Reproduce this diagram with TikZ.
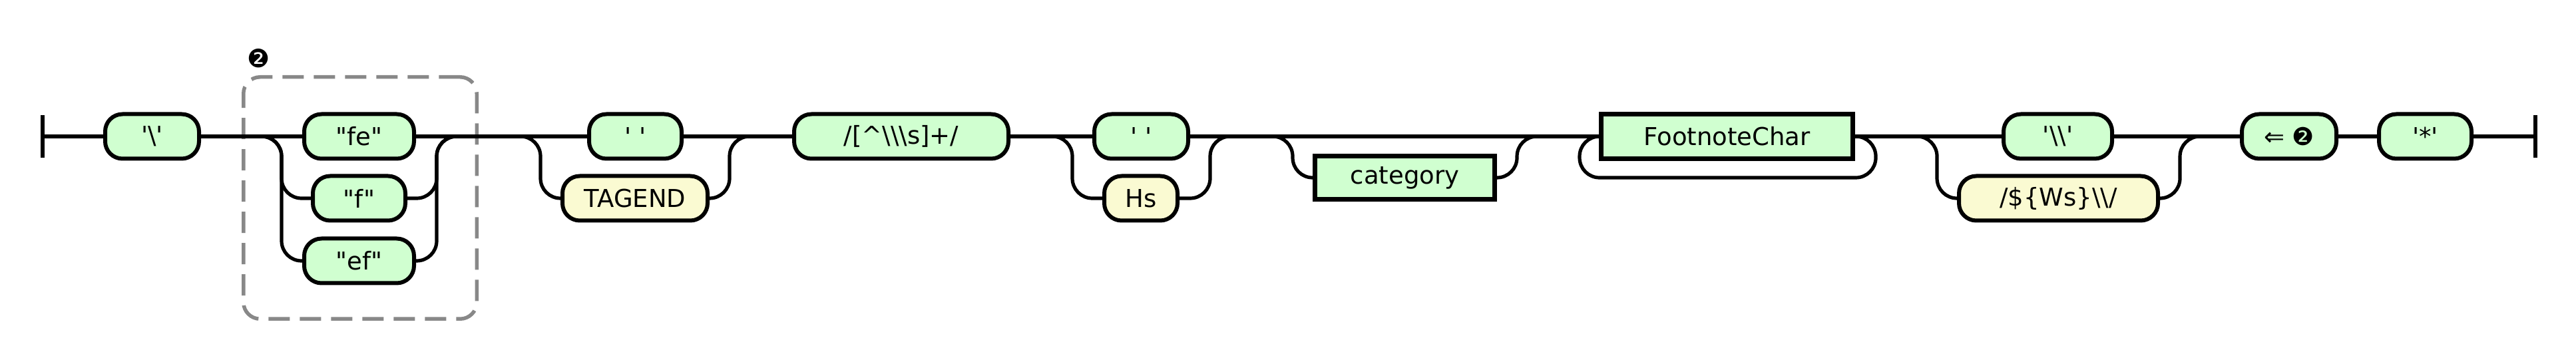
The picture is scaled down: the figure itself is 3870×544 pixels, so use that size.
\documentclass[tikz,border=0pt]{standalone}
\usepackage{fontspec}
\setmainfont{DejaVu Sans}
\definecolor{tgreen}{RGB}{208,255,208}
\definecolor{tyellow}{RGB}{250,250,210}
\definecolor{dgray}{RGB}{136,136,136}
\begin{document}
\begin{tikzpicture}[x=0.5pt,y=-0.5pt,
  base/.style={draw=black, inner sep=0pt, minimum height=33.5pt, font=\fontsize{18.5pt}{22pt}\selectfont},
  term/.style={base, line width=3pt, rounded corners=13pt, fill=tgreen},
  tok/.style={base, line width=3pt, rounded corners=13pt, fill=tyellow},
  nterm/.style={base, line width=3.5pt, fill=tgreen},
  wire/.style={line width=2.6pt, draw=black},
  turn/.style={wire, rounded corners=15pt},
  grp/.style={draw=dgray, line width=2.75pt, rounded corners=12.5pt, dash pattern=on 16pt off 7.5pt, inner sep=0pt},
  endbar/.style={line width=2.75pt, draw=black}]
\useasboundingbox (0,0) rectangle (3870,544);
% group box
\node[grp, minimum width=175.25pt, minimum height=181.75pt] (grp) at (541,297.5) {};
\node[font=\fontsize{19pt}{22pt}\selectfont, inner sep=0pt] (lbl) at (389,88) {❷};
% nodes
\node[term, minimum width=70.5pt] (bs) at (228.5,205) {\textquotesingle\textbackslash\textquotesingle};
\node[term, minimum width=82.5pt] (fe) at (539.5,205) {\textquotedbl fe\textquotedbl};
\node[term, minimum width=69.5pt] (f) at (539.5,298) {\textquotedbl f\textquotedbl};
\node[term, minimum width=82.5pt] (ef) at (539.5,392) {\textquotedbl ef\textquotedbl};
\node[term, minimum width=69.5pt] (sp1) at (954.5,205) {\textquotesingle\ \textquotesingle};
\node[tok, minimum width=109pt] (tagend) at (954,298) {TAGEND};
\node[term, minimum width=161pt] (re) at (1354,205) {/[\textasciicircum\textbackslash\textbackslash\textbackslash s]+/};
\node[term, minimum width=70.5pt] (sp2) at (1714.5,205) {\textquotesingle\ \textquotesingle};
\node[tok, minimum width=55pt] (hs) at (1714,298) {Hs};
\node[nterm, minimum width=135pt, minimum height=32.5pt] (cat) at (2110.5,267) {category};
\node[nterm, minimum width=189pt] (fc) at (2594.5,205) {FootnoteChar};
\node[term, minimum width=81.5pt] (bsbs) at (3091.5,205) {\textquotesingle\textbackslash\textbackslash\textquotesingle};
\node[tok, minimum width=149.5pt] (ws) at (3092.5,298) {/\$\{Ws\}\textbackslash\textbackslash/};
\node[term, minimum width=71pt] (back) at (3439,205) {⇐ ❷};
\node[term, minimum width=69.5pt] (star) at (3643.5,205) {\textquotesingle*\textquotesingle};
% coordinates
\coordinate (start) at (64,205);
\coordinate (stop) at (3809,205);
\coordinate (c1s) at (393,205);  \coordinate (c1e) at (686,205);
\coordinate (c2s) at (782,205);  \coordinate (c2e) at (1126,205);
\coordinate (c3s) at (1581,205); \coordinate (c3e) at (1848,205);
\coordinate (c4s) at (1912,205); \coordinate (c4e) at (2309,205);
\coordinate (c5s) at (2880,205); \coordinate (c5e) at (3305,205);
% end bars
\draw[endbar] (64,173) -- (64,237);
\draw[endbar] (3809,173) -- (3809,237);
% main line
\draw[wire] (start) -- (bs.west);
\draw[wire] (bs.east) -- (fe.west);
\draw[wire] (fe.east) -- (sp1.west);
\draw[wire] (sp1.east) -- (re.west);
\draw[wire] (re.east) -- (sp2.west);
\draw[wire] (sp2.east) -- (fc.west);
\draw[wire] (fc.east) -- (bsbs.west);
\draw[wire] (bsbs.east) -- (back.west);
\draw[wire] (back.east) -- (star.west);
\draw[wire] (star.east) -- (stop);
% choice 1
\draw[turn] (c1s) -| (423,298) -- (f.west);
\draw[turn] (c1s) -| (423,392) -- (ef.west);
\draw[turn] (f.east) -- (656,298) |- (c1e);
\draw[turn] (ef.east) -- (656,392) |- (c1e);
% choice 2
\draw[turn] (c2s) -| (812,298) -- (tagend.west);
\draw[turn] (tagend.east) -- (1096,298) |- (c2e);
% choice 3
\draw[turn] (c3s) -| (1611,298) -- (hs.west);
\draw[turn] (hs.east) -- (1818,298) |- (c3e);
% optional category
\draw[turn] (c4s) -| (1942,267) -- (cat.west);
\draw[turn] (cat.east) -- (2279,267) |- (c4e);
% loop FootnoteChar
\draw[wire, rounded corners=15pt] (fc.east) -- (2818,205) -- (2818,267) -- (2373,267) -- (2373,205) -- (fc.west);
% choice 5
\draw[turn] (c5s) -| (2910,298) -- (ws.west);
\draw[turn] (ws.east) -- (3275,298) |- (c5e);
\end{tikzpicture}
\end{document}
